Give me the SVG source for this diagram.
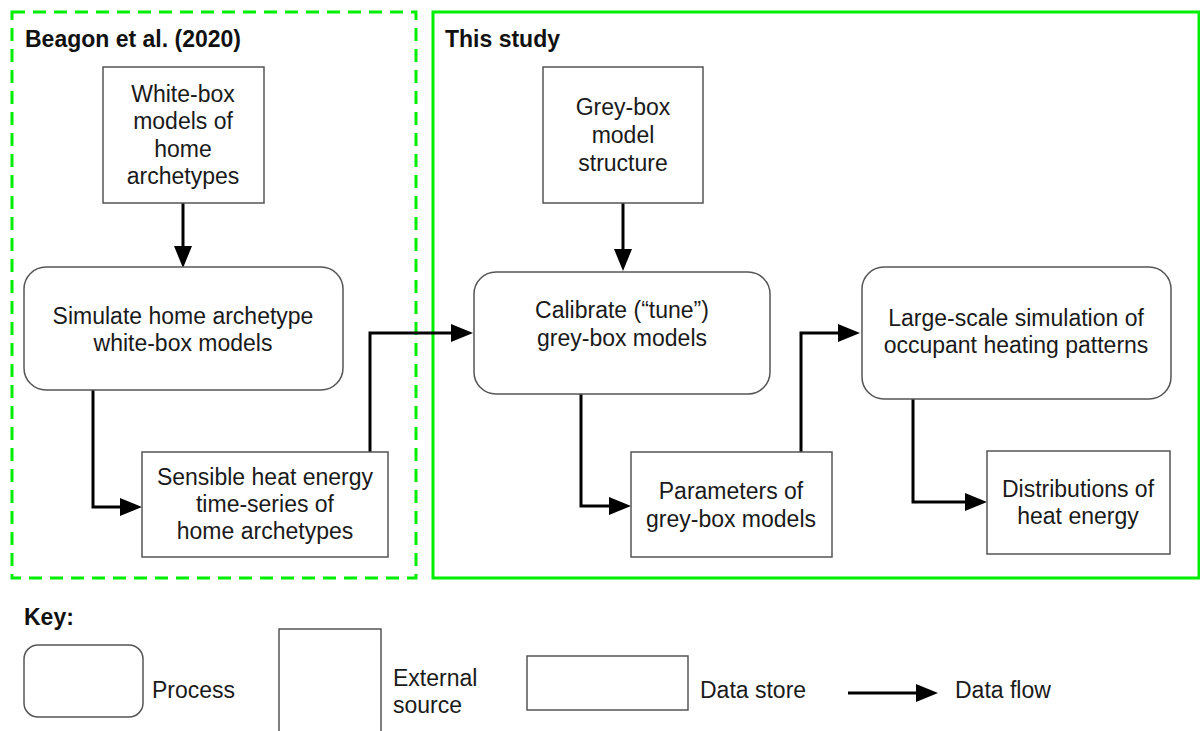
<svg xmlns="http://www.w3.org/2000/svg" width="1200" height="731" viewBox="0 0 1200 731">
<style>
text{font-family:"Liberation Sans",Arial,sans-serif;font-size:23px;fill:#1a1a1a}
.t{text-anchor:middle}
.b{font-weight:bold;fill:#111}
.box{fill:#fff;stroke:#555;stroke-width:1.5}
.con{fill:none;stroke:#000;stroke-width:3}
</style>
<defs>
<marker id="ah" markerUnits="userSpaceOnUse" markerWidth="24" markerHeight="20" refX="2" refY="9" orient="auto">
<path d="M0,0 L22,9 L0,18 z" fill="#000"/>
</marker>
</defs>
<rect width="1200" height="731" fill="#fff"/>
<g id="group-beagon">
<rect x="12" y="12" width="404" height="566" fill="none" stroke="#00ee00" stroke-width="3" stroke-dasharray="13 8"/>
<text class="b" x="25" y="47">Beagon et al. (2020)</text>
</g>
<g id="group-study">
<rect x="433" y="12" width="766" height="566" fill="none" stroke="#00ee00" stroke-width="3"/>
<text class="b" x="445" y="47">This study</text>
</g>
<g id="connectors">
<path class="con" d="M183,203 V248" marker-end="url(#ah)"/>
<path class="con" d="M93,390 V507 H122" marker-end="url(#ah)"/>
<path class="con" d="M370,452 V333 H453" marker-end="url(#ah)"/>
<path class="con" d="M623,203 V251" marker-end="url(#ah)"/>
<path class="con" d="M581,394 V506 H611" marker-end="url(#ah)"/>
<path class="con" d="M801,452 V333 H840" marker-end="url(#ah)"/>
<path class="con" d="M913,399 V502 H967" marker-end="url(#ah)"/>
</g>
<g id="white-box">
<rect class="box" x="103" y="67" width="161" height="136"/>
<text class="t" x="183" y="102">White-box</text>
<text class="t" x="183" y="129">models of</text>
<text class="t" x="183" y="157">home</text>
<text class="t" x="183" y="184">archetypes</text>
</g>
<g id="simulate">
<rect class="box" x="24" y="267" width="319" height="123" rx="22"/>
<text class="t" x="183" y="324">Simulate home archetype</text>
<text class="t" x="183" y="351">white-box models</text>
</g>
<g id="sensible">
<rect class="box" x="142" y="452" width="246" height="105"/>
<text class="t" x="265" y="485">Sensible heat energy</text>
<text class="t" x="265" y="512">time-series of</text>
<text class="t" x="265" y="539">home archetypes</text>
</g>
<g id="grey-structure">
<rect class="box" x="543" y="67" width="160" height="136"/>
<text class="t" x="623" y="115">Grey-box</text>
<text class="t" x="623" y="143">model</text>
<text class="t" x="623" y="171">structure</text>
</g>
<g id="calibrate">
<rect class="box" x="474" y="272" width="296" height="122" rx="22"/>
<text class="t" x="622" y="318">Calibrate (“tune”)</text>
<text class="t" x="622" y="346">grey-box models</text>
</g>
<g id="parameters">
<rect class="box" x="631" y="452" width="201" height="105"/>
<text class="t" x="731" y="499">Parameters of</text>
<text class="t" x="731" y="527">grey-box models</text>
</g>
<g id="large-scale">
<rect class="box" x="862" y="267" width="309" height="132" rx="22"/>
<text class="t" x="1016" y="326">Large-scale simulation of</text>
<text class="t" x="1016" y="353">occupant heating patterns</text>
</g>
<g id="distributions">
<rect class="box" x="987" y="451" width="183" height="103"/>
<text class="t" x="1078" y="497">Distributions of</text>
<text class="t" x="1078" y="524">heat energy</text>
</g>
<g id="key">
<text class="b" x="24" y="625">Key:</text>
<rect class="box" x="24" y="645" width="119" height="72" rx="14"/>
<text x="152" y="698">Process</text>
<rect class="box" x="279" y="629" width="102" height="110"/>
<text x="393" y="686">External</text>
<text x="393" y="713">source</text>
<rect class="box" x="527" y="656" width="161" height="54"/>
<text x="700" y="698">Data store</text>
<path class="con" d="M848,693 H918" marker-end="url(#ah)"/>
<text x="955" y="698">Data flow</text>
</g>
</svg>
